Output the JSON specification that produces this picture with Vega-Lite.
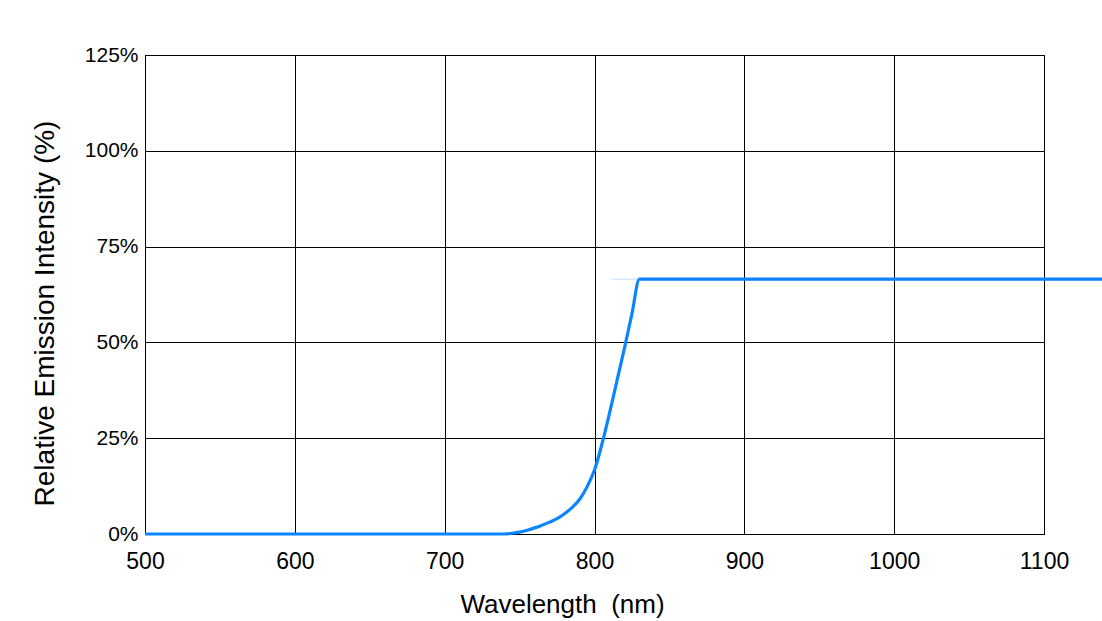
{
  "$schema": "https://vega.github.io/schema/vega-lite/v6.json",
  "width": 899,
  "height": 479,
  "autosize": "none",
  "padding": {"left": 145, "top": 55, "right": 58, "bottom": 87},
  "background": "white",
  "config": {
    "font": "Liberation Sans",
    "view": {"stroke": "black", "strokeWidth": 1},
    "axis": {
      "labelFont": "Liberation Sans",
      "titleFont": "Liberation Sans",
      "labelColor": "black",
      "titleColor": "black",
      "titleFontWeight": "normal",
      "labelFontSize": 21,
      "titleFontSize": 26,
      "gridColor": "black",
      "gridOpacity": 1,
      "gridWidth": 1,
      "domainColor": "black",
      "ticks": false
    }
  },
  "data": {
    "values": [
      {"series": "main", "wavelength": 500, "intensity": 0},
      {"series": "main", "wavelength": 600, "intensity": 0},
      {"series": "main", "wavelength": 700, "intensity": 0},
      {"series": "main", "wavelength": 740, "intensity": 0},
      {"series": "main", "wavelength": 745, "intensity": 0.2},
      {"series": "main", "wavelength": 750, "intensity": 0.5},
      {"series": "main", "wavelength": 755, "intensity": 1.0},
      {"series": "main", "wavelength": 760, "intensity": 1.6},
      {"series": "main", "wavelength": 765, "intensity": 2.3},
      {"series": "main", "wavelength": 770, "intensity": 3.1},
      {"series": "main", "wavelength": 775, "intensity": 4.0},
      {"series": "main", "wavelength": 780, "intensity": 5.3},
      {"series": "main", "wavelength": 785, "intensity": 6.9},
      {"series": "main", "wavelength": 790, "intensity": 9.0},
      {"series": "main", "wavelength": 795, "intensity": 12.3},
      {"series": "main", "wavelength": 800, "intensity": 16.7},
      {"series": "main", "wavelength": 805, "intensity": 23.5},
      {"series": "main", "wavelength": 810, "intensity": 31.5},
      {"series": "main", "wavelength": 815, "intensity": 40.0},
      {"series": "main", "wavelength": 820, "intensity": 48.5},
      {"series": "main", "wavelength": 825, "intensity": 57.5},
      {"series": "main", "wavelength": 830, "intensity": 66.5},
      {"series": "main", "wavelength": 1140, "intensity": 66.5},
      {"series": "faint", "wavelength": 811, "intensity": 66.5},
      {"series": "faint", "wavelength": 830, "intensity": 66.5}
    ]
  },
  "layer": [
    {
      "transform": [{"filter": "datum.series === 'faint'"}],
      "mark": {"type": "line", "color": "#c6e0ff", "strokeWidth": 1, "clip": false},
      "encoding": {
        "x": {"field": "wavelength", "type": "quantitative", "scale": {"domain": [500, 1100], "nice": false, "zero": false}},
        "y": {"field": "intensity", "type": "quantitative", "scale": {"domain": [0, 125], "nice": false}}
      }
    },
    {
      "transform": [{"filter": "datum.series === 'main'"}],
      "mark": {"type": "line", "color": "#0a84ff", "strokeWidth": 3.2, "interpolate": "monotone", "clip": false},
      "encoding": {
        "x": {
          "field": "wavelength",
          "type": "quantitative",
          "scale": {"domain": [500, 1100], "nice": false, "zero": false},
          "axis": {
            "values": [500, 600, 700, 800, 900, 1000, 1100],
            "format": "d",
            "title": "Wavelength\u00a0\u00a0(nm)",
            "labelFontSize": 23,
            "labelPadding": 16,
            "titlePadding": 18,
            "titleX": 417,
            "labelFlush": false
          }
        },
        "y": {
          "field": "intensity",
          "type": "quantitative",
          "scale": {"domain": [0, 125], "nice": false},
          "axis": {
            "values": [0, 25, 50, 75, 100, 125],
            "labelExpr": "datum.value + '%'",
            "title": "Relative Emission Intensity (%)",
            "titleFontSize": 28,
            "labelPadding": 7,
            "titlePadding": 25,
            "titleY": 258,
            "labelFlush": false
          }
        }
      }
    }
  ]
}
